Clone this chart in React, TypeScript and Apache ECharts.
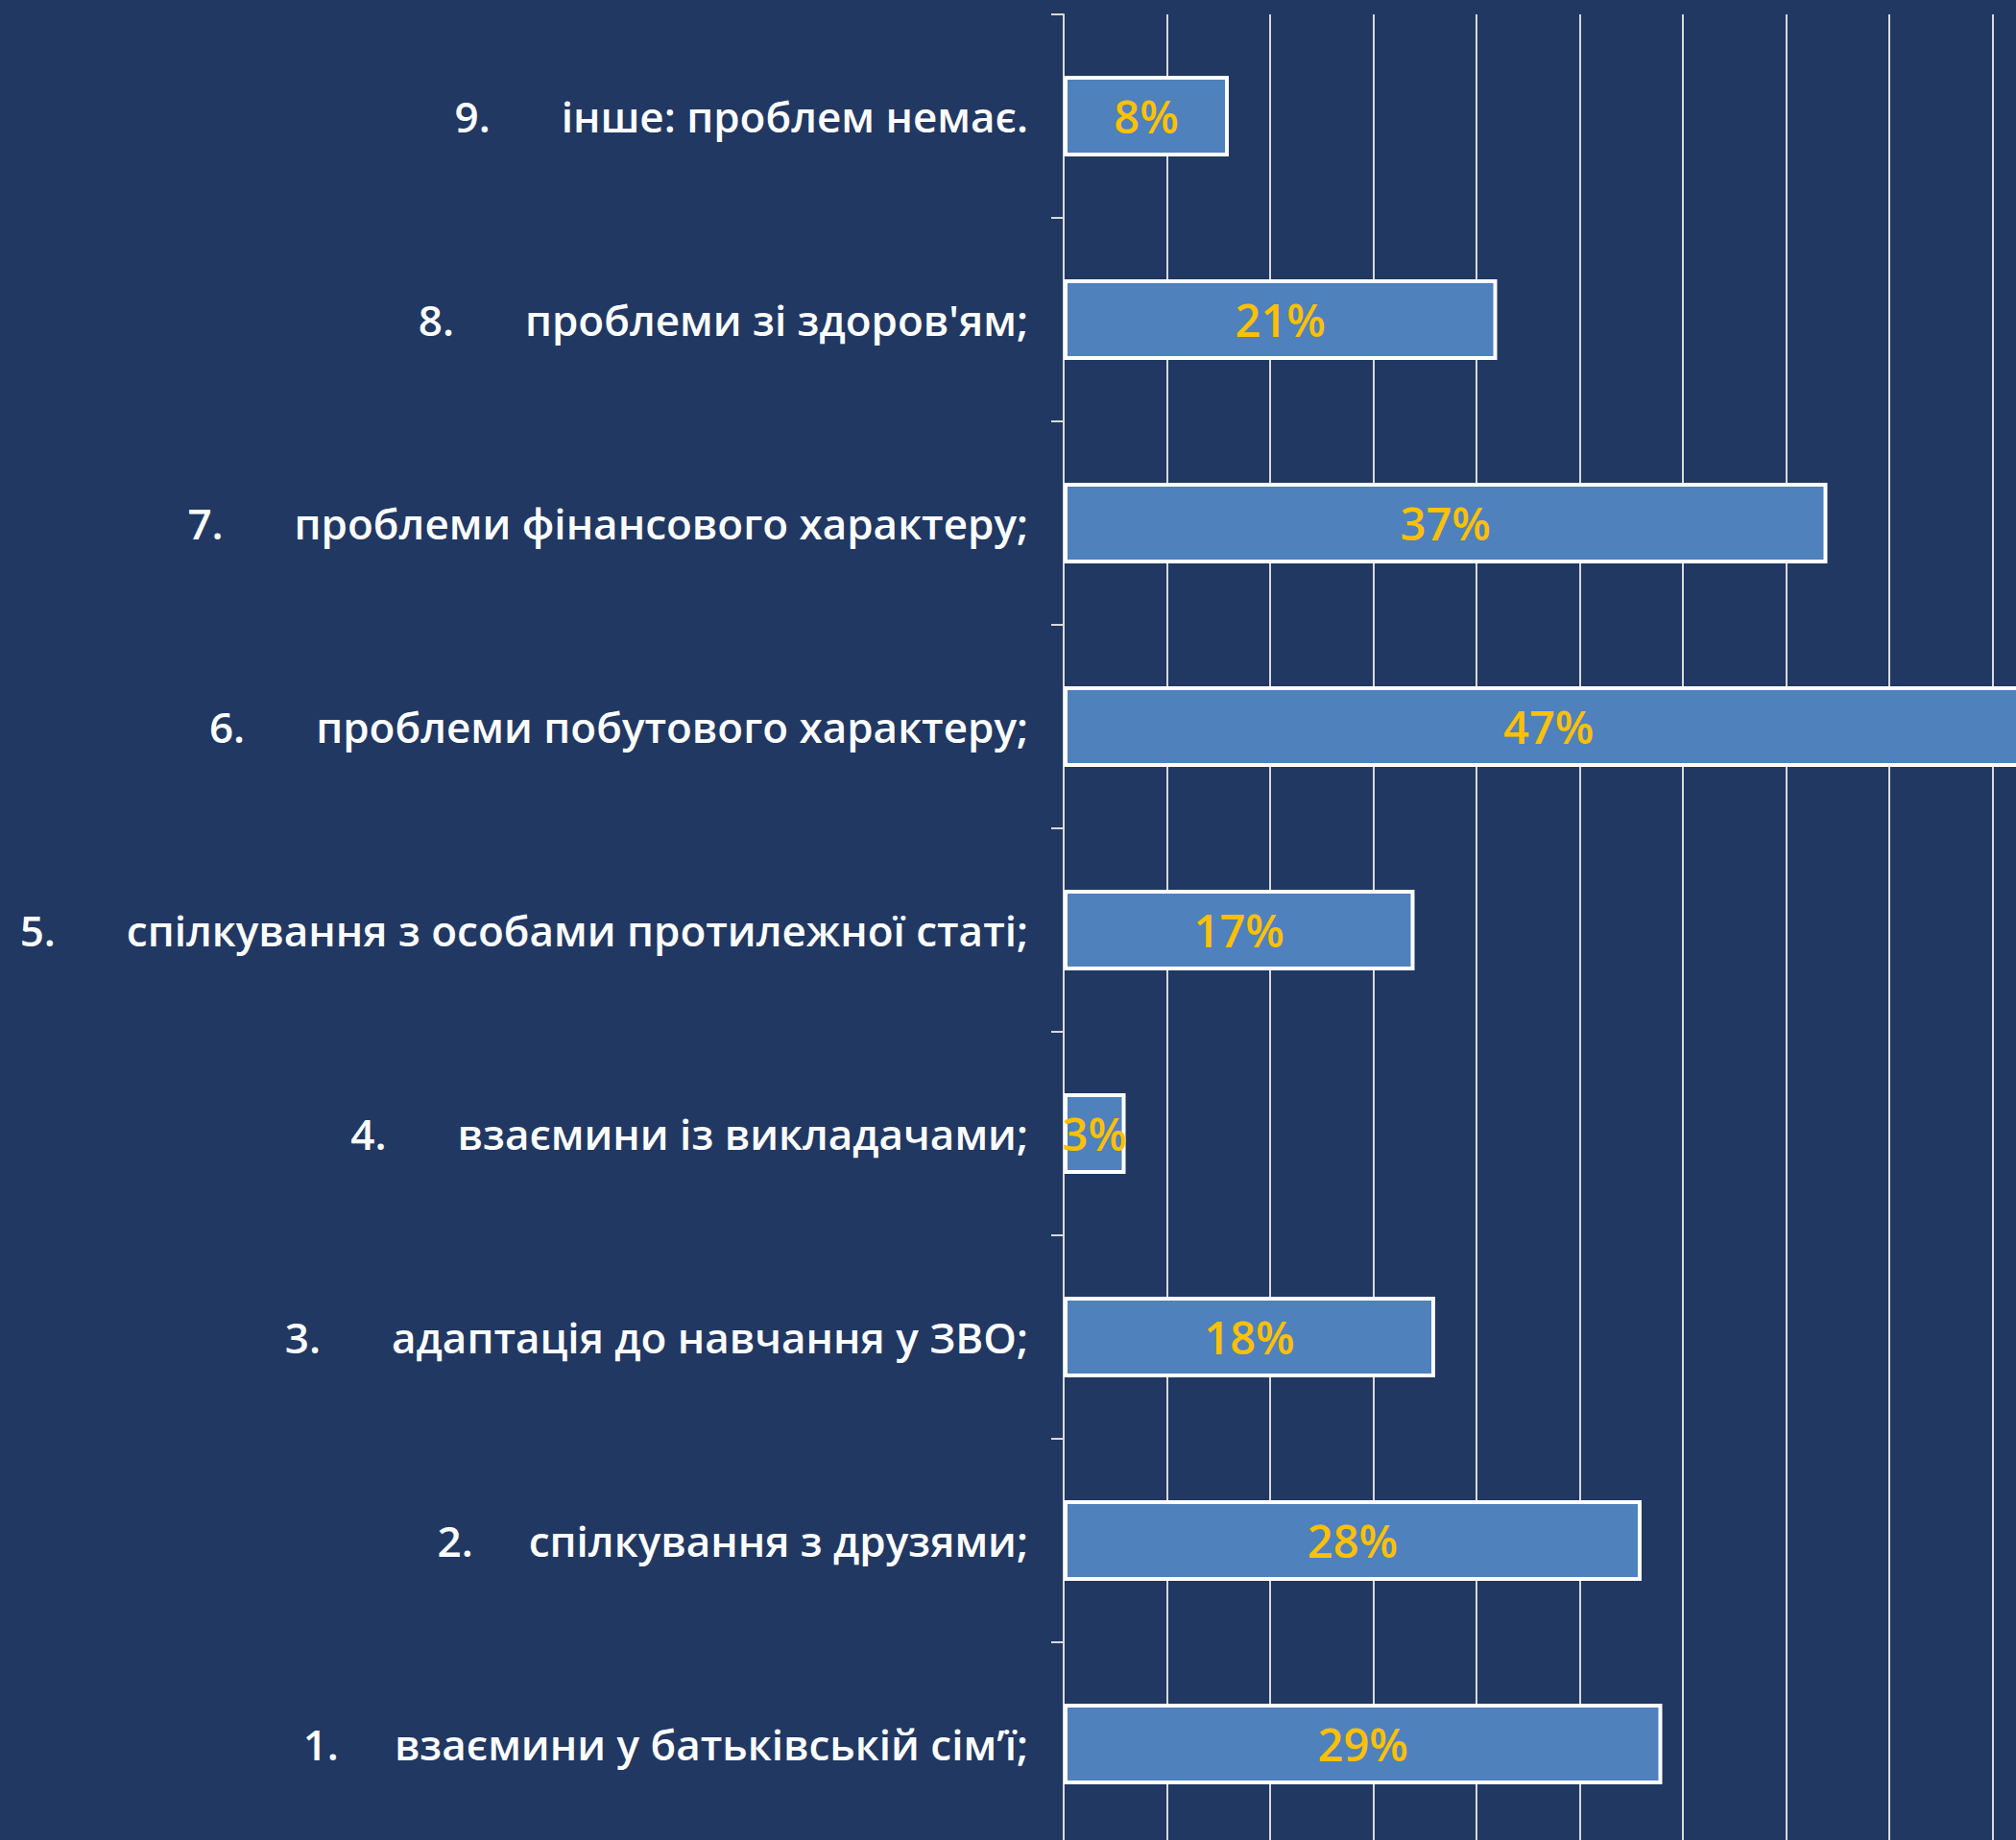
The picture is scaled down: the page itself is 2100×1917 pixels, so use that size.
import React, { useEffect, useRef } from "react";
import * as echarts from "echarts";

const numbers = ["1.", "2.", "3.", "4.", "5.", "6.", "7.", "8.", "9."];
const categories = [
  "взаємини у батьківській сім’ї;",
  "спілкування з друзями;",
  "адаптація до навчання у ЗВО;",
  "взаємини із викладачами;",
  "спілкування з особами протилежної статі;",
  "проблеми побутового характеру;",
  "проблеми фінансового характеру;",
  "проблеми зі здоров'ям;",
  "інше: проблем немає.",
];
const values = [29, 28, 18, 3, 17, 47, 37, 21, 8];

export default function App() {
  const ref = useRef<HTMLDivElement>(null);
  useEffect(() => {
    if (!ref.current) return;
    const chart = echarts.init(ref.current, undefined, { renderer: "svg" });
    const labels = categories.map((c, i) => numbers[i] + "|" + c);
    const font = "Open Sans";
    chart.setOption({
      animation: false,
      backgroundColor: "#213863",
      grid: { left: 1108, top: 15, width: 1075, height: 1908 },
      xAxis: {
        type: "value",
        min: 0,
        max: 50,
        interval: 5,
        axisLine: { show: false },
        axisTick: { show: false },
        axisLabel: { show: false },
        splitLine: { show: true, lineStyle: { color: "#d9d9d9", width: 2 } },
      },
      yAxis: {
        type: "category",
        data: labels,
        axisLine: { show: true, lineStyle: { color: "#d9d9d9", width: 2 } },
        axisTick: { show: true, length: 13, lineStyle: { color: "#d9d9d9", width: 2 } },
        splitLine: { show: false },
        axisLabel: {
          margin: 37,
          formatter: (v: string) => {
            const [n, t] = v.split("|");
            const st = n === "1." || n === "2." ? "m" : "n";
            return "{" + st + "|" + n + "}{t|" + t + "}";
          },
          rich: {
            n: {
              color: "#ffffff",
              fontFamily: font,
              fontWeight: 600,
              fontSize: 44,
              padding: [0, 74, 0, 0],
            },
            m: {
              color: "#ffffff",
              fontFamily: font,
              fontWeight: 600,
              fontSize: 44,
              padding: [0, 58, 0, 0],
            },
            t: {
              color: "#ffffff",
              fontFamily: font,
              fontWeight: 600,
              fontSize: 44,
            },
          },
        },
      },
      series: [
        {
          type: "bar",
          data: values,
          barWidth: 84,
          itemStyle: { color: "#4f81bd", borderColor: "#ffffff", borderWidth: 4 },
          label: {
            show: true,
            position: "inside",
            formatter: "{c}%",
            color: "#ffc000",
            fontFamily: font,
            fontWeight: 600,
            fontSize: 47,
          },
        },
      ],
    });
    return () => chart.dispose();
  }, []);
  return (
    <div
      style={{
        position: "fixed",
        left: 0,
        top: 0,
        width: 2100,
        height: 1917,
        overflow: "hidden",
      }}
    >
      <div ref={ref} style={{ width: 2220, height: 1960 }} />
    </div>
  );
}
